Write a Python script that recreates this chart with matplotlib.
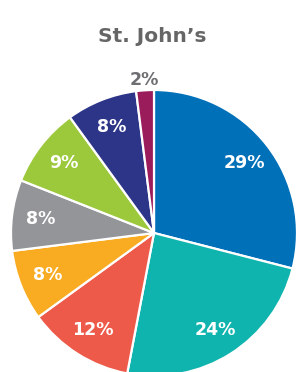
import numpy as np
import matplotlib
matplotlib.use("Agg")
import matplotlib.pyplot as plt

# slice data, clockwise from 12 o'clock
shares = [29, 24, 12, 8, 8, 9, 8, 2]
colors = ["#0070b9", "#10b4ae", "#ed5a4a", "#f9ac22", "#939598",
          "#9cc93c", "#2d3589", "#9b1c5b"]
title = "St. John\u2019s"

W, H = 297, 372
fig = plt.figure(figsize=(W / 100, H / 100), dpi=100)
ax = fig.add_axes([0, 0, 1, 1])

cx, cy, r = 154, H - 233, 143
wedges, texts, autotexts = ax.pie(
    shares, colors=colors, startangle=90, counterclock=False,
    center=(cx, cy), radius=r, autopct="%d%%", pctdistance=0.8,
    wedgeprops=dict(edgecolor="white", linewidth=1.6),
    textprops=dict(color="white", fontsize=12.5, fontweight="bold",
                   family="DejaVu Sans"))

# pie() resets the limits, so set the pixel frame afterwards
ax.set_xlim(0, W)
ax.set_ylim(0, H)
ax.set_aspect("equal")
ax.axis("off")

# smallest slice gets its label outside the pie
w = wedges[-1]
ang = np.deg2rad((w.theta1 + w.theta2) / 2)
autotexts[-1].set_position((cx + 1.07 * r * np.cos(ang), cy + 1.07 * r * np.sin(ang)))
autotexts[-1].set_color("#6d6e71")

ax.text(W / 2 + 4, H - 37, title, ha="center", va="center",
        fontsize=14.5, fontweight="bold", color="#666666", family="DejaVu Sans")

fig.savefig("out.png", dpi=100)
